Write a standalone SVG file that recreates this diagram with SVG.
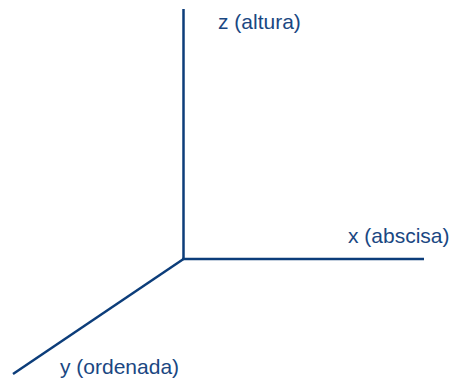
<svg xmlns="http://www.w3.org/2000/svg" width="454" height="382" viewBox="0 0 454 382">
<style>
.ax{stroke:#0c3d7a;stroke-width:2.5;fill:none;stroke-linecap:butt}
.lb{font-family:"Liberation Sans",Arial,sans-serif;font-size:21px;fill:#1a4782}
</style>
<rect width="454" height="382" fill="#fff"/>
<g id="connectors">
<line class="ax" x1="183.5" y1="9" x2="183.5" y2="259"/>
<line class="ax" x1="182" y1="259" x2="424" y2="259"/>
<line class="ax" x1="183.5" y1="259" x2="13" y2="374"/>
</g>
<g id="z"><text class="lb" x="218" y="29">z (altura)</text></g>
<g id="x"><text class="lb" x="348" y="243">x (abscisa)</text></g>
<g id="y"><text class="lb" x="60" y="374">y (ordenada)</text></g>
</svg>
